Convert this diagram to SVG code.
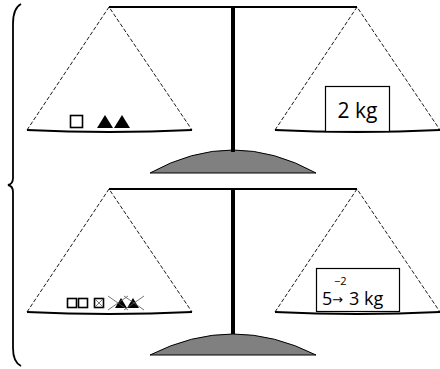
<svg xmlns="http://www.w3.org/2000/svg" width="440" height="369" viewBox="0 0 440 369">
<style>
.beam{stroke:#000;stroke-width:2;fill:none}
.pole{stroke:#000;stroke-width:4;fill:none}
.rope{stroke:#000;stroke-width:0.9;stroke-dasharray:4,2;fill:none}
.pan{stroke:#000;stroke-width:2.2;fill:none}
.dome{fill:#808080;stroke:#000;stroke-width:1}
.box{fill:#fff;stroke:#000;stroke-width:1.2}
.sq{fill:#fff;stroke:#000;stroke-width:1.6}
.tri{fill:#000}
.x{stroke:#555;stroke-width:0.8}
text{font-family:"Open Sans","Liberation Sans",sans-serif;fill:#000}
</style>
<rect width="440" height="369" fill="#fff"/>
<g id="brace">
<path d="M21,4 Q13,8 13,24 L13,178 Q13,184 8,185 Q13,186 13,192 L13,348 Q13,362 21,366" fill="none" stroke="#000" stroke-width="1.8"/>
</g>
<g id="scale-top">
<path class="dome" d="M150,173 Q233,127 316,173 Z"/>
<line class="pole" x1="233" y1="7" x2="233" y2="152"/>
<line class="beam" x1="109" y1="7" x2="357" y2="7"/>
<path class="rope" d="M27,130 L109,7 L192,130"/>
<path class="rope" d="M275,130 L357,7 L440,130"/>
<path class="pan" d="M27,130 Q109,134 192,130"/>
<path class="pan" d="M275,130 Q357,134 440,130"/>
</g>
<g id="left-top-items">
<rect class="sq" x="70.5" y="115.5" width="12" height="12"/>
<polygon class="tri" points="97,128 105,115 113,128"/>
<polygon class="tri" points="114,128 122,115 130,128"/>
</g>
<g id="weight-2kg">
<rect class="box" x="325.5" y="86.5" width="64" height="45"/>
<text x="357.5" y="118" font-size="21" text-anchor="middle">2 kg</text>
</g>
<g id="scale-bottom">
<path class="dome" d="M150,355 Q233,313 316,355 Z"/>
<line class="pole" x1="233" y1="189" x2="233" y2="334"/>
<line class="beam" x1="109" y1="189" x2="357" y2="189"/>
<path class="rope" d="M27,312 L109,189 L192,312"/>
<path class="rope" d="M275,312 L357,189 L440,312"/>
<path class="pan" d="M27,312 Q109,316 192,312"/>
<path class="pan" d="M275,312 Q357,316 440,312"/>
</g>
<g id="left-bottom-items">
<rect class="sq" x="67.5" y="298.5" width="9" height="9"/>
<rect class="sq" x="78.5" y="298.5" width="9" height="9"/>
<rect class="sq" x="94.5" y="298.5" width="9" height="9"/>
<line class="x" x1="94.5" y1="298.5" x2="103.5" y2="307.5"/>
<line class="x" x1="103.5" y1="298.5" x2="94.5" y2="307.5"/>
<polygon class="tri" points="115,308 121,298 127,308"/>
<polygon class="tri" points="127,308 133,298 139,308"/>
<line class="x" x1="108" y1="296" x2="128" y2="310"/>
<line class="x" x1="108" y1="310" x2="128" y2="296"/>
<line class="x" x1="124" y1="296" x2="144" y2="310"/>
<line class="x" x1="124" y1="310" x2="144" y2="296"/>
</g>
<g id="weight-5to3kg">
<rect class="box" x="316.5" y="268.5" width="83" height="43"/>
<text font-size="18"><tspan x="322" y="305">5</tspan><tspan x="334" y="285" font-size="11">−2</tspan><tspan x="332" y="304" font-size="13" font-family="DejaVu Sans">→</tspan><tspan x="349" y="305">3 kg</tspan></text>
</g>
</svg>
